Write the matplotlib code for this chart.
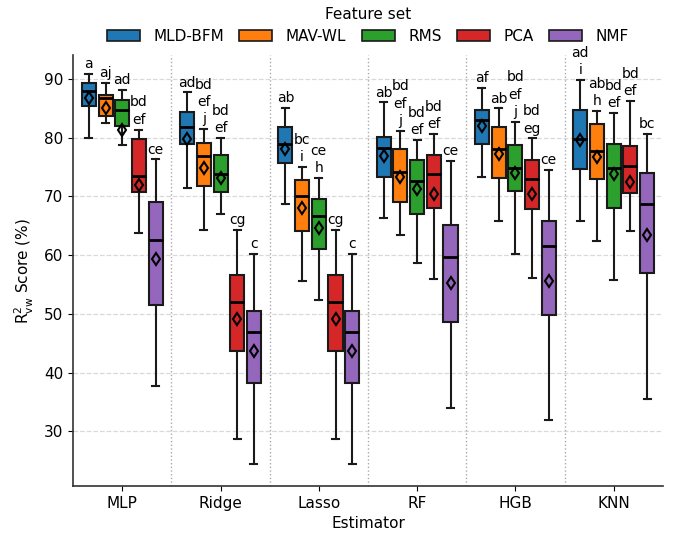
import matplotlib
matplotlib.use("Agg")
import matplotlib.pyplot as plt
from matplotlib.patches import Patch
import numpy as np

estimators = ["MLP", "Ridge", "Lasso", "RF", "HGB", "KNN"]
feature_sets = ["MLD-BFM", "MAV-WL", "RMS", "PCA", "NMF"]
colors = ["#1f77b4", "#ff7f0e", "#2ca02c", "#d62728", "#9467bd"]

# per feature set: rows = estimators (MLP, Ridge, Lasso, RF, HGB, KNN)
# [whisker_low, q1, median, q3, whisker_high, mean]
mld_bfm = [
    [80.0, 85.4, 88.0, 89.4, 90.85, 86.7],
    [71.5, 78.9, 81.9, 84.4, 87.7, 79.7],
    [68.8, 75.7, 78.9, 81.9, 85.1, 78.0],
    [66.3, 73.3, 78.2, 80.1, 86.0, 76.9],
    [73.4, 79.0, 83.0, 84.7, 88.5, 82.0],
    [65.9, 74.7, 79.7, 84.7, 89.8, 79.6],
]
mav_wl = [
    [82.5, 83.7, 86.7, 87.3, 89.3, 85.1],
    [64.3, 71.8, 76.9, 79.1, 81.5, 74.8],
    [55.6, 64.2, 70.1, 72.8, 75.0, 68.0],
    [63.5, 69.0, 74.1, 78.0, 81.2, 73.4],
    [65.9, 73.2, 78.1, 81.8, 85.0, 77.2],
    [62.5, 72.9, 77.8, 82.3, 84.6, 76.8],
]
rms = [
    [78.8, 82.0, 84.7, 86.4, 88.1, 81.4],
    [67.0, 70.8, 73.8, 77.1, 80.0, 73.1],
    [52.4, 61.0, 66.7, 69.5, 73.2, 64.6],
    [58.6, 67.1, 72.7, 76.2, 79.6, 71.2],
    [60.2, 70.9, 74.8, 78.8, 82.7, 74.0],
    [55.8, 68.1, 74.8, 78.9, 84.2, 73.8],
]
pca = [
    [63.8, 70.8, 73.5, 79.7, 81.4, 72.0],
    [28.8, 43.7, 52.1, 56.6, 64.3, 49.1],
    [28.8, 43.7, 52.1, 56.6, 64.3, 49.1],
    [55.9, 68.1, 73.8, 77.1, 80.7, 70.5],
    [56.2, 67.9, 72.9, 76.2, 79.9, 70.4],
    [64.1, 70.6, 75.2, 78.6, 86.3, 72.5],
]
nmf = [
    [37.8, 51.5, 62.6, 69.1, 76.3, 59.4],
    [24.4, 38.2, 47.0, 50.5, 60.2, 43.7],
    [24.4, 38.2, 47.0, 50.5, 60.2, 43.7],
    [34.0, 48.7, 59.7, 65.1, 76.0, 55.2],
    [31.9, 49.8, 61.5, 65.9, 74.5, 55.6],
    [35.5, 56.9, 68.8, 74.0, 80.7, 63.5],
]
letters = [
    ["a", "aj", "ad", "bd\nef", "ce"],
    ["ad", "bd\nef\nj", "bd\nef", "cg", "c"],
    ["ab", "bc\ni", "ce\nh", "cg", "c"],
    ["ab", "bd\nef\nj", "bd\nef", "bd\nef", "ce"],
    ["af", "ab", "bd\nef\nj", "bd\neg", "ce"],
    ["ad\ni", "ab\nh", "bd\nef", "bd\nef", "bc"],
]
all_sets = [mld_bfm, mav_wl, rms, pca, nmf]

fig = plt.figure(figsize=(6.77, 5.33), dpi=100)
ax = fig.add_axes([0.108, 0.088, 0.871, 0.809])

slot = 0.17
bw = 0.143
for j, (data, col) in enumerate(zip(all_sets, colors)):
    for i, row in enumerate(data):
        lo, q1, med, q3, hi, mean = row
        pos = i + (j - 2) * slot
        st = dict(whislo=lo, q1=q1, med=med, q3=q3, whishi=hi, mean=mean, fliers=[])
        ax.bxp([st], positions=[pos], widths=bw, patch_artist=True, showmeans=True,
               showfliers=False,
               boxprops=dict(facecolor=col, edgecolor="#1a1a1a", linewidth=1.5),
               medianprops=dict(color="black", linewidth=2),
               whiskerprops=dict(color="#1a1a1a", linewidth=1.5),
               capprops=dict(color="#1a1a1a", linewidth=1.5),
               capwidths=bw * 0.5,
               meanprops=dict(marker="d", markerfacecolor="none", markeredgecolor="black",
                              markeredgewidth=1.5, markersize=6.5),
               manage_ticks=False, zorder=3)
        ax.annotate(letters[i][j], (pos, hi), xytext=(0, 2), textcoords="offset points",
                    ha="center", va="bottom", fontsize=10, linespacing=1.3, zorder=4)

for k in range(len(estimators) - 1):
    ax.axvline(k + 0.5, color="#aaaaaa", linestyle=":", linewidth=1, zorder=1)

ax.set_xlim(-0.5, 5.5)
ax.set_ylim(20.7, 94.1)
ax.set_yticks([30, 40, 50, 60, 70, 80, 90])
ax.set_xticks(range(len(estimators)))
ax.set_xticklabels(estimators, fontsize=11)
ax.tick_params(axis="y", labelsize=11)
ax.yaxis.grid(True, linestyle="--", color="#d9d9d9", linewidth=0.9, zorder=0)
ax.set_axisbelow(True)
for s in ["top", "right"]:
    ax.spines[s].set_visible(False)
for s in ["left", "bottom"]:
    ax.spines[s].set_linewidth(1.2)
    ax.spines[s].set_color("#333333")
ax.set_xlabel("Estimator", fontsize=11)
ax.set_ylabel(r"R$^2_{\mathrm{vw}}$ Score (%)", fontsize=11, labelpad=6)

handles = [Patch(facecolor=c, edgecolor="#1a1a1a", linewidth=1.2) for c in colors]
leg = ax.legend(handles, feature_sets, title="Feature set", ncol=5, loc="lower center",
                bbox_to_anchor=(0.5, 1.0), frameon=False, fontsize=11, title_fontsize=11,
                handlelength=2.15, handleheight=0.75, columnspacing=1.0, handletextpad=0.9,
                borderaxespad=0.3)

fig.savefig("out.png", dpi=100)
